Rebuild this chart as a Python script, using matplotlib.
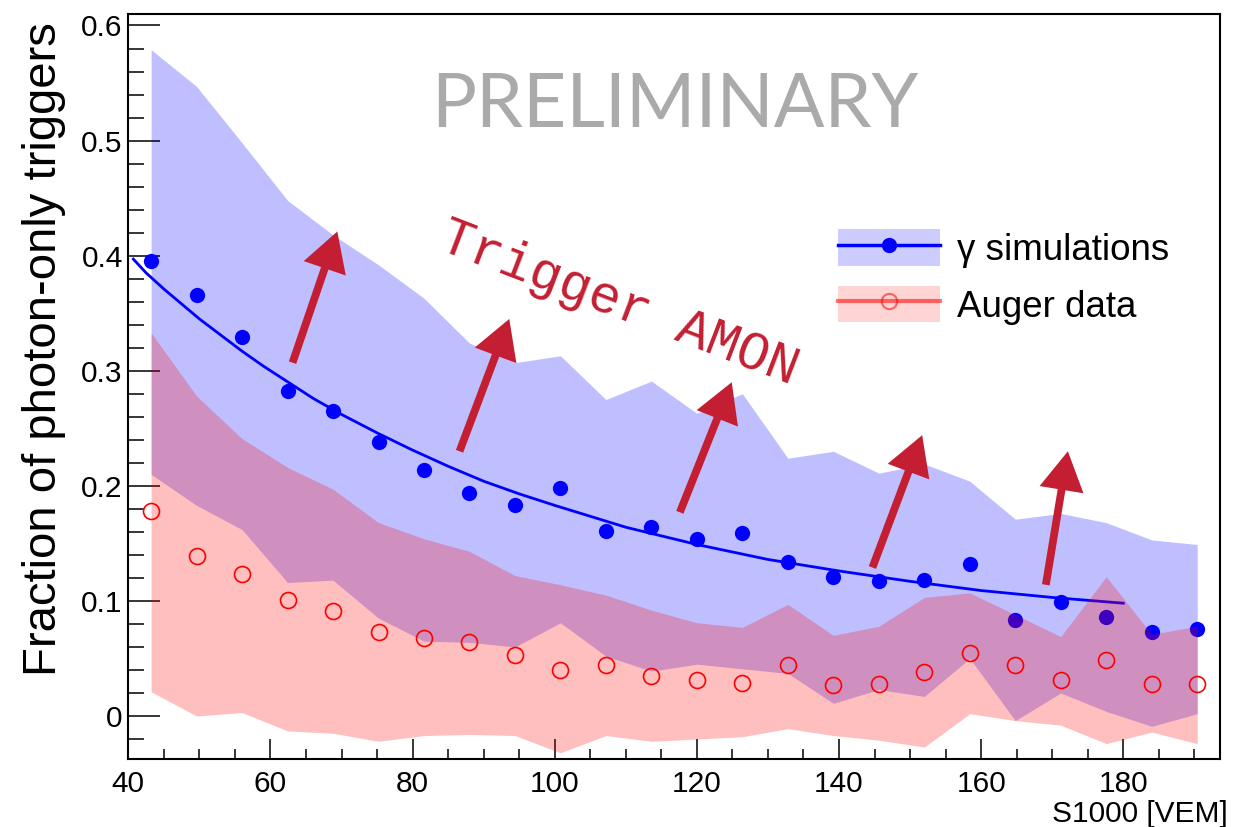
import matplotlib
matplotlib.use('Agg')
import matplotlib.pyplot as plt
from matplotlib.patches import Patch
from matplotlib.lines import Line2D
from matplotlib.legend_handler import HandlerTuple
from matplotlib.ticker import MultipleLocator, FuncFormatter

plt.rcParams['font.family'] = ['Liberation Sans', 'DejaVu Sans']

# S1000 bin centres [VEM]
s1000 = [43.2, 49.6, 56.0, 62.4, 68.8, 75.2, 81.6, 88.0, 94.4, 100.8, 107.2, 113.6,
         120.0, 126.4, 132.8, 139.2, 145.6, 152.0, 158.4, 164.8, 171.2, 177.6, 184.0, 190.4]

# gamma simulations
gamma_frac = [0.395, 0.366, 0.329, 0.282, 0.265, 0.238, 0.214, 0.194, 0.183, 0.198, 0.161, 0.164,
              0.154, 0.159, 0.134, 0.121, 0.117, 0.118, 0.132, 0.083, 0.099, 0.086, 0.073, 0.076]
gamma_hi = [0.579, 0.547, 0.498, 0.448, 0.418, 0.392, 0.363, 0.324, 0.307, 0.313, 0.275, 0.291,
            0.263, 0.280, 0.224, 0.230, 0.211, 0.219, 0.204, 0.171, 0.176, 0.168, 0.153, 0.149]
gamma_lo = [0.210, 0.183, 0.162, 0.116, 0.118, 0.085, 0.065, 0.064, 0.060, 0.081, 0.052, 0.039,
            0.045, 0.041, 0.037, 0.011, 0.023, 0.017, 0.050, -0.004, 0.020, 0.004, -0.009, 0.002]

# Auger data
auger_frac = [0.178, 0.139, 0.123, 0.101, 0.091, 0.073, 0.068, 0.064, 0.053, 0.040, 0.044, 0.035,
              0.031, 0.029, 0.044, 0.027, 0.028, 0.038, 0.055, 0.044, 0.031, 0.049, 0.028, 0.028]
auger_hi = [0.333, 0.278, 0.241, 0.216, 0.197, 0.168, 0.154, 0.143, 0.122, 0.114, 0.105, 0.092,
            0.081, 0.077, 0.097, 0.070, 0.078, 0.103, 0.107, 0.088, 0.069, 0.121, 0.071, 0.078]
auger_lo = [0.021, 0.000, 0.003, -0.013, -0.015, -0.022, -0.017, -0.016, -0.017, -0.032, -0.017, -0.022,
            -0.020, -0.018, -0.011, -0.017, -0.021, -0.027, 0.002, -0.004, -0.008, -0.024, -0.014, -0.024]

# fit curve to the gamma points
fit_x = [40.7, 42.5, 45, 47.5, 50, 53, 56, 59, 62, 66, 70, 75, 80, 85, 90, 95, 100,
         110, 120, 130, 140, 150, 160, 170, 180]
fit_y = [0.397, 0.385, 0.371, 0.358, 0.345, 0.331, 0.317, 0.304, 0.292, 0.276, 0.262, 0.246,
         0.231, 0.217, 0.204, 0.193, 0.183, 0.164, 0.149, 0.136, 0.126, 0.117, 0.109, 0.103, 0.098]

# hand drawn arrows: (tail x, tail y, tip x, tip y)
arrows = [(63.1, 0.307, 69.4, 0.421),
          (86.6, 0.230, 93.6, 0.345),
          (117.6, 0.177, 124.9, 0.290),
          (144.7, 0.129, 151.7, 0.244),
          (169.1, 0.114, 172.2, 0.230)]

arrow_red = '#C41E32'

fig = plt.figure(figsize=(12.56, 8.27), dpi=100)
ax = fig.add_axes([0.1022, 0.0822, 0.8691, 0.9009])

ax.fill_between(s1000, gamma_lo, gamma_hi, color=(0, 0, 1), alpha=0.25, lw=0, zorder=1)
ax.plot(s1000, gamma_frac, 'o', color='blue', ms=11, mec='none', zorder=2)
ax.plot(fit_x, fit_y, '-', color='blue', lw=2.0, zorder=3, solid_joinstyle='round')
ax.fill_between(s1000, auger_lo, auger_hi, color=(1, 0, 0), alpha=0.25, lw=0, zorder=4)
ax.plot(s1000, auger_frac, 'o', mfc='none', mec='red', mew=1.2, ms=11.5, zorder=5)

for tx, ty, hx, hy in arrows:
    ax.annotate('', xy=(hx, hy), xytext=(tx, ty),
                arrowprops=dict(arrowstyle='simple,head_length=0.7,head_width=0.8,tail_width=0.14',
                                mutation_scale=40, color=arrow_red, lw=0,
                                shrinkA=0, shrinkB=0), zorder=6)

ax.text(109.0, 0.358, 'Trigger AMON', rotation=-21, rotation_mode='anchor',
        ha='center', va='center', family='Liberation Mono', fontsize=38,
        color=arrow_red, zorder=7)

fig.text(675 / 1256, 1 - 127 / 827, 'PRELIMINARY', ha='center', va='baseline',
         family='Lato', fontsize=54, color='#aaaaaa')

ax.set_xlim(40, 193.6)
ax.set_ylim(-0.0374, 0.61)

ax.xaxis.set_major_locator(MultipleLocator(20))
ax.xaxis.set_minor_locator(MultipleLocator(5))
ax.yaxis.set_major_locator(MultipleLocator(0.1))
ax.yaxis.set_minor_locator(MultipleLocator(0.02))
ax.yaxis.set_major_formatter(FuncFormatter(lambda v, p: '0' if abs(v) < 1e-9 else '%.1f' % v))

ax.tick_params(axis='both', which='both', direction='in', top=False, right=False,
               labelsize=21.5, width=1.1)
ax.tick_params(axis='y', which='major', length=23, pad=4)
ax.tick_params(axis='y', which='minor', length=11.5)
ax.tick_params(axis='x', which='major', length=14.4, pad=8)
ax.tick_params(axis='x', which='minor', length=7.2)
for sp in ax.spines.values():
    sp.set_linewidth(1.5)

fig.text(1228 / 1256, 1 - 822 / 827, 'S1000 [VEM]', ha='right', va='baseline', fontsize=21.5)
fig.text(44 / 1256, 1 - 349 / 827, 'Fraction of photon-only triggers', rotation=90,
         ha='center', va='center', fontsize=34)

h_gamma = (Patch(facecolor=(0, 0, 1), alpha=0.2, lw=0),
           Line2D([], [], color='blue', lw=2.5, marker='o', ms=11, mec='none'))
h_auger = (Patch(facecolor=(1, 0, 0), alpha=0.17, lw=0),
           Line2D([], [], color='red', alpha=0.55, lw=3, marker='o', mfc='none', mec='red', ms=11, mew=1.5))
ax.legend([h_gamma, h_auger], ['\u03b3 simulations', 'Auger data'],
          handler_map={tuple: HandlerTuple(ndivide=1, pad=0)},
          loc='upper left', bbox_to_anchor=(0.650, 0.711), frameon=False,
          fontsize=26.5, handlelength=2.77, handleheight=1.14, labelspacing=0.49,
          handletextpad=0.47, borderpad=0, borderaxespad=0)

fig.savefig('out.png', dpi=100)
